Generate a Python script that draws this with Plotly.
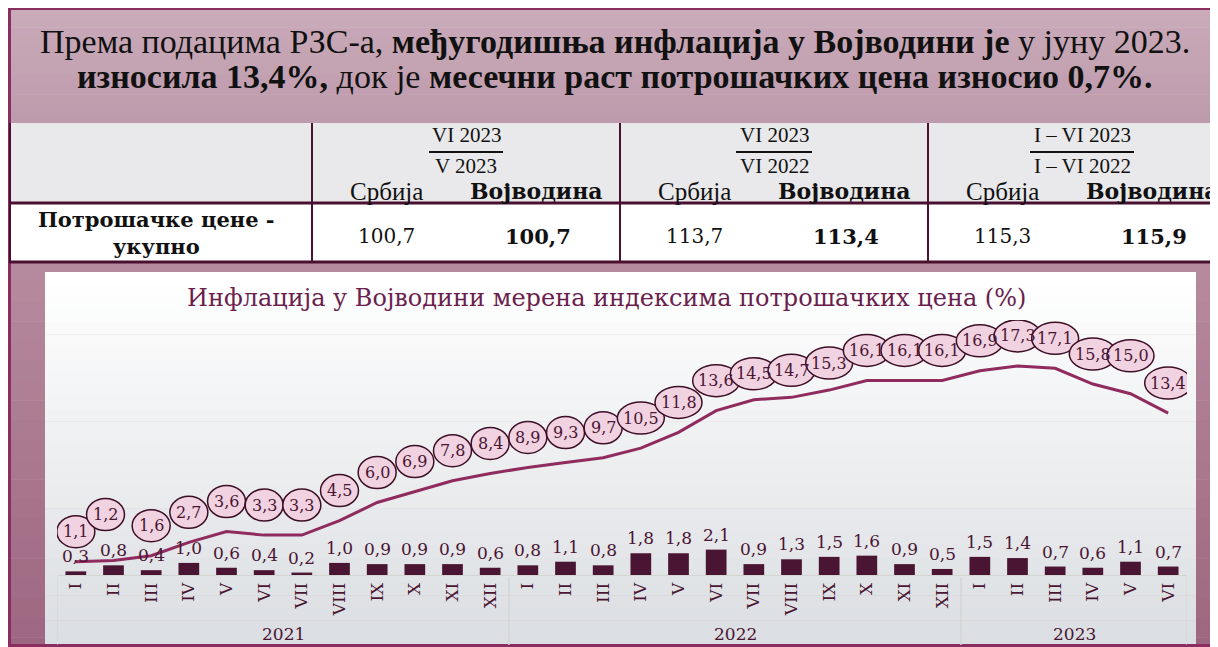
import plotly.graph_objects as go

W, H = 1218, 647
OFF = 8  # the page body margin shifts the figure by 8 px right and down

# --- data ------------------------------------------------------------------ #
years = ["2021"] * 12 + ["2022"] * 12 + ["2023"] * 6
months = ["I", "II", "III", "IV", "V", "VI", "VII", "VIII", "IX", "X", "XI", "XII",
          "I", "II", "III", "IV", "V", "VI", "VII", "VIII", "IX", "X", "XI", "XII",
          "I", "II", "III", "IV", "V", "VI"]
# year-on-year inflation, % (line)
yoy = [1.1, 1.2, 1.6, 2.7, 3.6, 3.3, 3.3, 4.5, 6.0, 6.9, 7.8, 8.4,
       8.9, 9.3, 9.7, 10.5, 11.8, 13.6, 14.5, 14.7, 15.3, 16.1, 16.1, 16.1,
       16.9, 17.3, 17.1, 15.8, 15.0, 13.4]
# month-on-month growth, % (bars)
mom = [0.3, 0.8, 0.4, 1.0, 0.6, 0.4, 0.2, 1.0, 0.9, 0.9, 0.9, 0.6,
       0.8, 1.1, 0.8, 1.8, 1.8, 2.1, 0.9, 1.3, 1.5, 1.6, 0.9, 0.5,
       1.5, 1.4, 0.7, 0.6, 1.1, 0.7]

period_top = ["VI 2023", "VI 2023", "I – VI 2023"]
period_bottom = ["V 2023", "VI 2022", "I – VI 2022"]
serbia_vals = ["100,7", "113,7", "115,3"]
vojvodina_vals = ["100,7", "113,4", "115,9"]

HEADLINE_1 = ("Према подацима РЗС-а, <b>међугодишња инфлација у Војводини је</b>"
              " у јуну 2023.")
HEADLINE_2 = ("<b>износила 13,4%,</b> док је <b>месечни раст потрошачких цена"
              " износио 0,7%.</b>")
CHART_TITLE = "Инфлација у Војводини мерена индексима потрошачких цена (%)"
ROW_LABEL = "<b>Потрошачке цене -<br>укупно</b>"

# --- styles ---------------------------------------------------------------- #
DARK = "#4a1533"
MAROON_LINE = "#8f2b5f"
BORDER = "#8a2d60"
GRID_DARK = "#4a1030"
AXIS_GRAY = "#d4d4d4"
SERIF = "DejaVu Serif"
HEAD_FONT = "Liberation Serif"


def fmt(v):
    return f"{v:.1f}".replace(".", ",")


def px(x):
    return (x - OFF) / W


def py(y):
    return 1 - (y - OFF) / H


def mix(c0, c1, t):
    return "rgb(%d,%d,%d)" % tuple(round(a + (b - a) * t) for a, b in zip(c0, c1))


def vgrad(x0, x1, y0, y1, top, bot, n=24):
    """Stack of thin rects approximating a vertical gradient (screen px)."""
    out = []
    step = (y1 - y0) / n
    for k in range(n):
        out.append(dict(type="rect", xref="paper", yref="paper", layer="below",
                        x0=px(x0), x1=px(x1), y0=py(y0 + k * step),
                        y1=py(y0 + (k + 1) * step + 0.6),
                        fillcolor=mix(top, bot, k / (n - 1)), line_width=0))
    return out


def pline(x0, y0, x1, y1, color, width):
    return dict(type="line", xref="paper", yref="paper", x0=px(x0), y0=py(y0),
                x1=px(x1), y1=py(y1), line=dict(color=color, width=width))


def ptext(x, y, text, size, color="#111111", family=SERIF, **kw):
    return dict(xref="paper", yref="paper", x=px(x), y=py(y), text=text,
                showarrow=False, xanchor="center", yanchor="middle",
                font=dict(family=family, size=size, color=color), **kw)


shapes = []
annotations = []

# backgrounds
shapes += vgrad(8, W + 10, 8, 123, (201, 170, 185), (190, 155, 172), 12)
shapes.append(dict(type="rect", xref="paper", yref="paper", layer="below",
                   x0=px(10), x1=px(W + 10), y0=py(203), y1=py(123),
                   fillcolor="#e9e9eb", line_width=0))
shapes.append(dict(type="rect", xref="paper", yref="paper", layer="below",
                   x0=px(10), x1=px(W + 10), y0=py(262), y1=py(203),
                   fillcolor="#ffffff", line_width=0))
shapes += vgrad(8, W + 10, 262, H + 10, (182, 138, 158), (157, 102, 128), 20)
shapes += vgrad(45, 1196, 272, 645, (255, 255, 255), (219, 222, 226), 30)

# outer border
shapes.append(pline(8, 9, W + 10, 9, BORDER, 2))
shapes.append(pline(9.5, 8, 9.5, H + 10, BORDER, 3))
shapes.append(pline(8, 645.5, W + 10, 645.5, BORDER, 3))

# table rules
shapes.append(pline(9, 203, W + 10, 203, GRID_DARK, 3))
shapes.append(pline(9, 262, W + 10, 262, GRID_DARK, 3))
shapes.append(pline(10, 123, 10, 262, GRID_DARK, 2))
for xv in (312, 620, 928):
    shapes.append(pline(xv, 123, xv, 262, GRID_DARK, 2))

# headline
annotations.append(ptext(615, 41, HEADLINE_1, 34, family=HEAD_FONT))
annotations.append(ptext(615, 77, HEADLINE_2, 34, family=HEAD_FONT))

# table text
group_x = [466, 774, 1082]
frac_half = [37, 38, 52]
for gx, half, top, bot, sv, vv in zip(group_x, frac_half, period_top,
                                      period_bottom, serbia_vals, vojvodina_vals):
    annotations.append(ptext(gx, 135, top, 21, family=HEAD_FONT))
    annotations.append(ptext(gx, 166, bot, 21, family=HEAD_FONT))
    shapes.append(pline(gx - half, 152, gx + half, 152, "#111111", 2))
    annotations.append(ptext(gx - 80, 191, "Србија", 25, family=HEAD_FONT))
    annotations.append(ptext(gx + 70, 191, "<b>Војводина</b>", 22))
    annotations.append(ptext(gx - 80, 236, sv, 20))
    annotations.append(ptext(gx + 72, 236, f"<b>{vv}</b>", 21))
annotations.append(ptext(156, 233, ROW_LABEL, 21))

# chart title
annotations.append(ptext(606, 298, CHART_TITLE, 24, color="#6a1f4e"))

# --- chart ----------------------------------------------------------------- #
xi = list(range(len(months)))

fig = go.Figure()
fig.add_trace(go.Bar(
    x=xi, y=mom, width=0.55, marker=dict(color=DARK, line_width=0),
    hoverinfo="skip",
))
fig.add_trace(go.Scatter(
    x=xi, y=yoy, mode="lines", line=dict(color=MAROON_LINE, width=3),
    hoverinfo="skip", cliponaxis=False,
))

# bar value labels
for i, v in zip(xi, mom):
    annotations.append(dict(xref="x", yref="y", x=i, y=v, yanchor="bottom",
                            yshift=3, text=fmt(v), showarrow=False,
                            font=dict(family=SERIF, size=17, color=DARK)))

# ellipse data labels above the line
label_dy = {1: 46, 18: 26, 19: 27, 20: 27, 28: 38}
label_dx = {1: -8}
for i, v in zip(xi, yoy):
    t = fmt(v)
    dy = label_dy.get(i, 30)
    dx = label_dx.get(i, 0)
    w = 38 if len(t) == 3 else 47
    shapes.append(dict(type="circle", xref="x", yref="y", layer="above",
                       xsizemode="pixel", ysizemode="pixel", xanchor=i, yanchor=v,
                       x0=dx - w / 2, x1=dx + w / 2, y0=dy - 16, y1=dy + 16,
                       fillcolor="#f0d2e1", line=dict(color="#3d0f27", width=1.5)))
    annotations.append(dict(xref="x", yref="y", x=i, y=v, xshift=dx, yshift=dy,
                            text=t, showarrow=False,
                            font=dict(family=SERIF, size=16, color=DARK)))

# year groups: dividers and labels under the month ticks
groups = []
for i, yr in zip(xi, years):
    if not groups or groups[-1][0] != yr:
        groups.append([yr, i, i])
    else:
        groups[-1][2] = i
for yr, first, last in groups:
    for edge in (first - 0.5, last + 0.5):
        shapes.append(dict(type="line", xref="x", yref="paper", x0=edge, x1=edge,
                           y0=py(577), y1=py(645), line=dict(color=AXIS_GRAY, width=1)))
    annotations.append(dict(xref="x", yref="paper", x=(first + last) / 2, y=py(634),
                            text=yr, showarrow=False, yanchor="middle",
                            font=dict(family=SERIF, size=17, color=DARK)))

fig.update_layout(
    width=W, height=H, autosize=False,
    margin=dict(l=0, r=0, t=0, b=0),
    paper_bgcolor="#ffffff", plot_bgcolor="rgba(0,0,0,0)",
    showlegend=False,
    shapes=shapes, annotations=annotations,
    xaxis=dict(
        domain=[px(57), px(1187)], range=[-0.5, len(months) - 0.5],
        tickmode="array", tickvals=xi, ticktext=months,
        tickangle=-90, ticks="", showline=True, linecolor=AXIS_GRAY, linewidth=1,
        tickfont=dict(family=SERIF, size=17, color=DARK), showgrid=False,
        zeroline=False,
    ),
    yaxis=dict(
        domain=[py(575), py(320)], range=[0, 21.1], visible=False,
        showgrid=False, zeroline=False,
    ),
)

fig.write_html("out.html")
